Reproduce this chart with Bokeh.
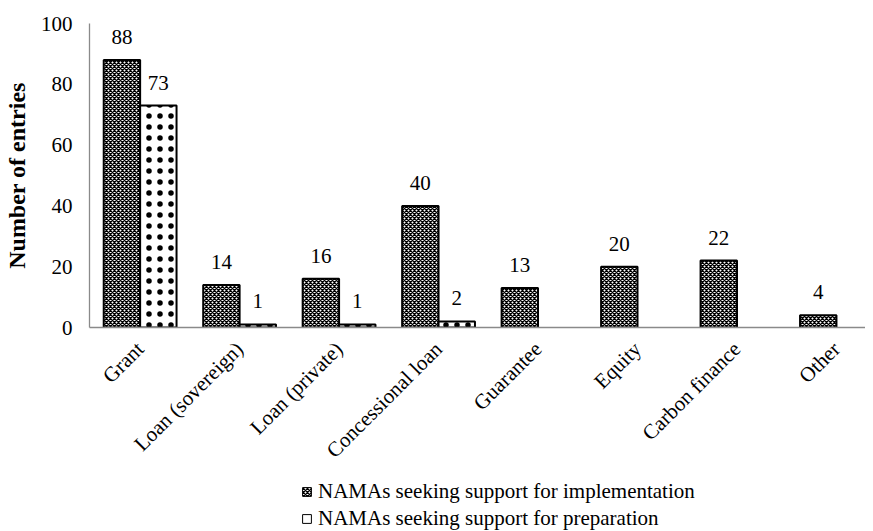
import numpy as np
from math import pi
from bokeh.plotting import figure
from bokeh.layouts import column
from bokeh.models import ColumnDataSource, Range1d, FixedTicker, Legend, LegendItem
from bokeh.transform import dodge
from bokeh.core.properties import value
from bokeh.embed import file_html
from bokeh.resources import INLINE

categories = ["Grant", "Loan (sovereign)", "Loan (private)", "Concessional loan",
              "Guarantee", "Equity", "Carbon finance", "Other"]
implementation = [88, 14, 16, 40, 13, 20, 22, 4]
preparation = [73, 1, 1, 2, None, None, None, None]
y_ticks = [0, 20, 40, 60, 80, 100]
series_names = ["NAMAs seeking support for implementation",
                "NAMAs seeking support for preparation"]

FONT = "Liberation Serif"
W = 0.366

pos = list(range(len(categories)))
impl_src = ColumnDataSource(dict(x=pos, top=implementation,
                                 label=[str(v) for v in implementation]))
idx = [i for i, v in enumerate(preparation) if v is not None]
prep_src = ColumnDataSource(dict(x=[pos[i] for i in idx],
                                 top=[preparation[i] for i in idx],
                                 label=[str(preparation[i]) for i in idx]))

p = figure(width=865, height=478, output_backend="svg", toolbar_location=None,
           x_range=Range1d(-0.509, 7.292), y_range=Range1d(0, 100),
           min_border_left=88, min_border_right=0, min_border_top=23,
           min_border_bottom=151)
p.outline_line_color = None
p.xgrid.grid_line_color = None
p.ygrid.grid_line_color = None
p.background_fill_color = "white"
p.border_fill_color = "white"

impl_style = dict(fill_color="white", hatch_pattern="diagonal_cross", hatch_scale=4,
                  hatch_weight=1.4, hatch_color="black", line_color="black")
prep_style = dict(fill_color="white", hatch_pattern="dot", hatch_scale=11,
                  hatch_weight=0.3, hatch_color="black", line_color="black")

p.vbar(x=dodge("x", -W / 2, range=p.x_range), top="top", bottom=0, width=W,
       source=impl_src, line_width=2, **impl_style)
p.vbar(x=dodge("x", W / 2, range=p.x_range), top="top", bottom=0, width=W,
       source=prep_src, line_width=2, **prep_style)

p.text(x=dodge("x", -W / 2, range=p.x_range), y="top", text="label", source=impl_src,
       text_align="center", text_baseline="alphabetic", y_offset=-23,
       text_font=value(FONT), text_font_size="21px", text_color="black")
p.text(x=dodge("x", W / 2, range=p.x_range), y="top", text="label", source=prep_src,
       text_align="center", text_baseline="alphabetic", y_offset=-23,
       text_font=value(FONT), text_font_size="21px", text_color="black")

for ax in (p.xaxis[0], p.yaxis[0]):
    ax.axis_line_color = "#8a8a8a"
    ax.axis_line_width = 1.3
    ax.major_tick_line_color = None
    ax.minor_tick_line_color = None
    ax.major_tick_out = 0
    ax.major_tick_in = 0
    ax.major_label_text_font = FONT
    ax.major_label_text_font_size = "21px"
    ax.major_label_text_color = "black"

p.xaxis.ticker = FixedTicker(ticks=pos)
p.xaxis.major_label_overrides = {i: c for i, c in zip(pos, categories)}
p.xaxis.major_label_orientation = pi / 4
p.xaxis.major_label_standoff = 18

p.yaxis.ticker = FixedTicker(ticks=y_ticks)
p.yaxis.major_label_standoff = 17
p.yaxis.axis_label = "Number of entries"
p.yaxis.axis_label_text_font = FONT
p.yaxis.axis_label_text_font_style = "bold"
p.yaxis.axis_label_text_font_size = "24px"
p.yaxis.axis_label_text_color = "black"
p.yaxis.axis_label_standoff = 8

# legend panel below the chart (its bars lie outside its visible range)
p2 = figure(width=865, height=53, output_backend="svg", toolbar_location=None,
            x_range=Range1d(-30, -29), y_range=Range1d(0, 1),
            x_axis_type=None, y_axis_type=None,
            min_border_left=0, min_border_right=0, min_border_top=0,
            min_border_bottom=0)
p2.outline_line_color = None
p2.xgrid.grid_line_color = None
p2.ygrid.grid_line_color = None
p2.background_fill_color = "white"
p2.border_fill_color = "white"
r_l1 = p2.vbar(x="x", top="top", width=W, source=impl_src, line_width=1, **impl_style)
r_l2 = p2.vbar(x="x", top="top", width=W, source=prep_src, line_width=1,
               fill_color="white", line_color="black")
legend = Legend(items=[LegendItem(label=series_names[0], renderers=[r_l1]),
                       LegendItem(label=series_names[1], renderers=[r_l2])],
                location=(212, 0), orientation="vertical",
                border_line_color=None, background_fill_alpha=0,
                padding=0, margin=0, glyph_width=11, glyph_height=11,
                label_standoff=6, spacing=2, label_height=20,
                label_text_font=FONT, label_text_font_size="21px",
                label_text_color="black")
p2.add_layout(legend)

layout = column(p, p2, spacing=0)
open("out.html", "w").write(file_html(layout, INLINE))
